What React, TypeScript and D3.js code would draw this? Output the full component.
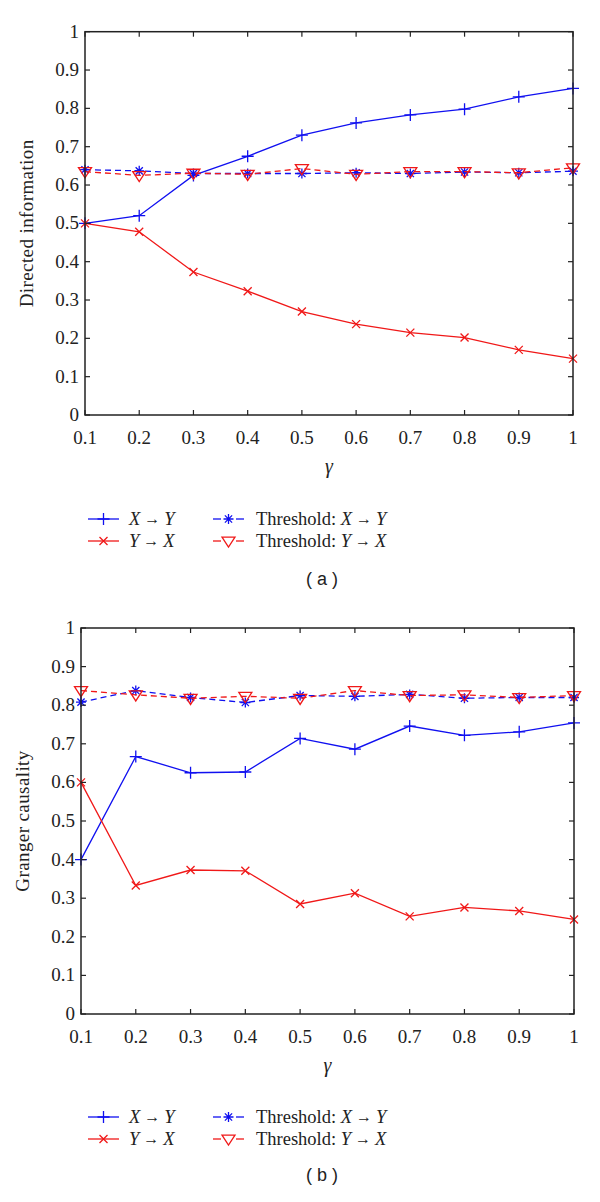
import React from "react";
import * as d3 from "d3";

const gammas = [0.1, 0.2, 0.3, 0.4, 0.5, 0.6, 0.7, 0.8, 0.9, 1.0];
const xTicks = [0.1, 0.2, 0.3, 0.4, 0.5, 0.6, 0.7, 0.8, 0.9, 1];
const yTicks = [0, 0.1, 0.2, 0.3, 0.4, 0.5, 0.6, 0.7, 0.8, 0.9, 1];

// Panel (a): Directed information
const diXY = [0.5, 0.52, 0.625, 0.675, 0.73, 0.762, 0.783, 0.798, 0.83, 0.852];
const diYX = [0.5, 0.478, 0.373, 0.323, 0.27, 0.237, 0.215, 0.202, 0.17, 0.147];
const diThrXY = [0.64, 0.637, 0.63, 0.63, 0.63, 0.632, 0.63, 0.634, 0.632, 0.636];
const diThrYX = [0.635, 0.625, 0.631, 0.628, 0.643, 0.628, 0.635, 0.635, 0.632, 0.645];

// Panel (b): Granger causality
const gcXY = [0.4, 0.667, 0.625, 0.627, 0.714, 0.686, 0.746, 0.722, 0.731, 0.754];
const gcYX = [0.6, 0.333, 0.373, 0.371, 0.285, 0.313, 0.253, 0.276, 0.267, 0.245];
const gcThrXY = [0.808, 0.838, 0.82, 0.807, 0.825, 0.823, 0.828, 0.818, 0.82, 0.82];
const gcThrYX = [0.838, 0.827, 0.818, 0.823, 0.818, 0.838, 0.825, 0.827, 0.82, 0.825];

const BLUE = "#1010f0";
const RED = "#f01818";
const SERIF = "'Liberation Serif', 'DejaVu Serif', serif";
const SANS = "'Liberation Sans', Arial, sans-serif";

type MarkerKind = "plus" | "cross" | "star" | "tri";

function Marker({ kind, x, y, color }: { kind: MarkerKind; x: number; y: number; color: string }) {
  const sw = 1.3;
  if (kind === "plus") {
    const s = 6;
    return (
      <path d={`M${x - s},${y}H${x + s}M${x},${y - s}V${y + s}`} stroke={color} strokeWidth={sw} fill="none" />
    );
  }
  if (kind === "cross") {
    const s = 4;
    return (
      <path d={`M${x - s},${y - s}L${x + s},${y + s}M${x - s},${y + s}L${x + s},${y - s}`} stroke={color} strokeWidth={sw} fill="none" />
    );
  }
  if (kind === "star") {
    const s = 5;
    const d = 3.6;
    return (
      <path
        d={`M${x - s},${y}H${x + s}M${x},${y - s}V${y + s}M${x - d},${y - d}L${x + d},${y + d}M${x - d},${y + d}L${x + d},${y - d}`}
        stroke={color}
        strokeWidth={sw}
        fill="none"
      />
    );
  }
  const s = 6.5;
  return (
    <path d={`M${x - s},${y - s * 0.6}L${x + s},${y - s * 0.6}L${x},${y + s * 0.95}Z`} stroke={color} strokeWidth={sw} fill="none" />
  );
}

type Series = { values: number[]; color: string; dashed: boolean; marker: MarkerKind };

function Arrow({ a, b }: { a: string; b: string }) {
  return (
    <>
      <tspan fontStyle="italic">{a}</tspan>
      <tspan fontSize="16" dy="-1">{" → "}</tspan>
      <tspan fontStyle="italic" dy="1">{b}</tspan>
    </>
  );
}

function Panel({
  top,
  left,
  right,
  bottom,
  ylabel,
  series,
  caption,
  legOff,
  capOff,
}: {
  top: number;
  left: number;
  right: number;
  bottom: number;
  ylabel: string;
  series: Series[];
  caption: string;
  legOff: number;
  capOff: number;
}) {
  const x = d3.scaleLinear().domain([0.1, 1]).range([left, right]);
  const y = d3.scaleLinear().domain([0, 1]).range([bottom, top]);
  const line = d3
    .line<number>()
    .x((_, i) => x(gammas[i]))
    .y((v) => y(v));
  const tl = 5;
  const legY1 = bottom + legOff;
  const legY2 = bottom + legOff + 22;
  const midX = (left + right) / 2;
  const legendItems = [
    { s: series[0], lx: 88, tx: 129, ty: legY1, a: "X", b: "Y", pre: "" },
    { s: series[1], lx: 88, tx: 129, ty: legY2, a: "Y", b: "X", pre: "" },
    { s: series[2], lx: 213, tx: 256, ty: legY1, a: "X", b: "Y", pre: "Threshold: " },
    { s: series[3], lx: 213, tx: 256, ty: legY2, a: "Y", b: "X", pre: "Threshold: " },
  ];
  return (
    <g>
      {series.map((s, si) => (
        <g key={si}>
          <path
            d={line(s.values) || ""}
            stroke={s.color}
            strokeWidth={1.3}
            fill="none"
            strokeDasharray={s.dashed ? "6,4" : undefined}
          />
          {s.values.map((v, i) => (
            <Marker key={i} kind={s.marker} x={x(gammas[i])} y={y(v)} color={s.color} />
          ))}
        </g>
      ))}
      <rect x={left} y={top} width={right - left} height={bottom - top} fill="none" stroke="#222" strokeWidth={1.5} />
      {xTicks.map((t) => (
        <g key={"x" + t}>
          <line x1={x(t)} x2={x(t)} y1={bottom} y2={bottom - tl} stroke="#222" strokeWidth={1.2} />
          <line x1={x(t)} x2={x(t)} y1={top} y2={top + tl} stroke="#222" strokeWidth={1.2} />
          <text x={x(t)} y={bottom + 29} textAnchor="middle" fontFamily={SERIF} fontSize={19} fill="#222">
            {d3.format("~g")(t)}
          </text>
        </g>
      ))}
      {yTicks.map((t) => (
        <g key={"y" + t}>
          <line x1={left} x2={left + tl} y1={y(t)} y2={y(t)} stroke="#222" strokeWidth={1.2} />
          <line x1={right} x2={right - tl} y1={y(t)} y2={y(t)} stroke="#222" strokeWidth={1.2} />
          <text x={left - 6} y={y(t) + 6} textAnchor="end" fontFamily={SERIF} fontSize={19} fill="#222">
            {d3.format("~g")(t)}
          </text>
        </g>
      ))}
      <text
        transform={`translate(${left - 52},${(top + bottom) / 2}) rotate(-90)`}
        textAnchor="middle"
        fontFamily={SERIF}
        fontSize={19}
        letterSpacing={0.4}
        fill="#222"
      >
        {ylabel}
      </text>
      <text x={midX} y={bottom + 58} textAnchor="middle" fontFamily={SERIF} fontStyle="italic" fontSize={20} fill="#222">
        γ
      </text>
      {legendItems.map((it, i) => (
        <g key={"l" + i}>
          {it.s.dashed ? (
            <>
              <line x1={it.lx} x2={it.lx + 8} y1={it.ty - 6} y2={it.ty - 6} stroke={it.s.color} strokeWidth={1.3} />
              <line x1={it.lx + 23} x2={it.lx + 31} y1={it.ty - 6} y2={it.ty - 6} stroke={it.s.color} strokeWidth={1.3} />
            </>
          ) : (
            <line x1={it.lx} x2={it.lx + 31} y1={it.ty - 6} y2={it.ty - 6} stroke={it.s.color} strokeWidth={1.3} />
          )}
          <Marker kind={it.s.marker} x={it.lx + 15.5} y={it.ty - 6} color={it.s.color} />
          <text x={it.tx} y={it.ty} fontFamily={SERIF} fontSize={18.5} fill="#222">
            {it.pre}
            <Arrow a={it.a} b={it.b} />
          </text>
        </g>
      ))}
      <text x={322} y={bottom + capOff} textAnchor="middle" fontFamily={SANS} fontSize={18} fill="#222">
        ( {caption} )
      </text>
    </g>
  );
}

export default function App() {
  const seriesA: Series[] = [
    { values: diXY, color: BLUE, dashed: false, marker: "plus" },
    { values: diYX, color: RED, dashed: false, marker: "cross" },
    { values: diThrXY, color: BLUE, dashed: true, marker: "star" },
    { values: diThrYX, color: RED, dashed: true, marker: "tri" },
  ];
  const seriesB: Series[] = [
    { values: gcXY, color: BLUE, dashed: false, marker: "plus" },
    { values: gcYX, color: RED, dashed: false, marker: "cross" },
    { values: gcThrXY, color: BLUE, dashed: true, marker: "star" },
    { values: gcThrYX, color: RED, dashed: true, marker: "tri" },
  ];
  return (
    <svg
      width={600}
      height={1202}
      viewBox="0 0 600 1202"
      style={{ position: "absolute", left: 0, top: 0, background: "#fff" }}
    >
      <rect width={600} height={1202} fill="#fff" />
      <Panel top={31.7} left={85} right={573} bottom={415} ylabel="Directed information" series={seriesA} caption="a" legOff={110} capOff={170} />
      <Panel top={628} left={81} right={574} bottom={1014} ylabel="Granger causality" series={seriesB} caption="b" legOff={109} capOff={167} />
    </svg>
  );
}
